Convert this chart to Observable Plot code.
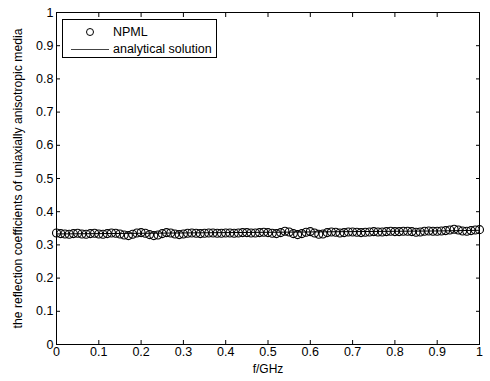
<!DOCTYPE html>
<html>
<head>
<meta charset="utf-8">
<script src="https://cdn.jsdelivr.net/npm/d3@7"></script>
<script src="https://cdn.jsdelivr.net/npm/@observablehq/plot@0.6"></script>
<style>
  html, body { margin: 0; padding: 0; background: #fff; }
  #wrap { position: relative; width: 490px; height: 381px; font-family: "Liberation Sans", Arial, sans-serif; }
  #legend { position: absolute; left: 62px; top: 19px; width: 153px; height: 37px; border: 1px solid #000; background: #fff; font-size: 12.5px; color: #000; }
  #legend .row { position: absolute; left: 0; height: 14px; line-height: 14px; }
  #legend .mk { position: absolute; left: 23px; top: 3px; width: 8px; height: 8px; border: 1px solid #000; border-radius: 50%; box-sizing: border-box; }
  #legend .ln { position: absolute; left: 8px; top: 7px; width: 38px; height: 0; border-top: 1px solid #444; }
  #legend .lbl { position: absolute; left: 50px; top: 0; white-space: nowrap; }
</style>
</head>
<body>
<div id="wrap">
  <div id="chart"></div>
  <div id="legend">
    <div class="row" style="top:5px;width:151px"><span class="mk"></span><span class="lbl">NPML</span></div>
    <div class="row" style="top:22px;width:151px"><span class="ln"></span><span class="lbl">analytical solution</span></div>
  </div>
</div>
<script>
// Frequency grid (GHz) for the NPML samples
const npmlF = [0,0.01,0.02,0.03,0.04,0.05,0.06,0.07,0.08,0.09,0.1,
  0.11,0.12,0.13,0.14,0.15,0.16,0.17,0.18,0.19,0.2,
  0.21,0.22,0.23,0.24,0.25,0.26,0.27,0.28,0.29,0.3,
  0.31,0.32,0.33,0.34,0.35,0.36,0.37,0.38,0.39,0.4,
  0.41,0.42,0.43,0.44,0.45,0.46,0.47,0.48,0.49,0.5,
  0.51,0.52,0.53,0.54,0.55,0.56,0.57,0.58,0.59,0.6,
  0.61,0.62,0.63,0.64,0.65,0.66,0.67,0.68,0.69,0.7,
  0.71,0.72,0.73,0.74,0.75,0.76,0.77,0.78,0.79,0.8,
  0.81,0.82,0.83,0.84,0.85,0.86,0.87,0.88,0.89,0.9,
  0.91,0.92,0.93,0.94,0.95,0.96,0.97,0.98,0.99,1];
// NPML reflection coefficients
const npmlR = [0.336,0.334,0.333,0.332,0.334,0.335,0.333,0.332,0.334,0.335,0.333,
  0.332,0.334,0.336,0.335,0.333,0.330,0.328,0.332,0.336,0.337,
  0.335,0.331,0.328,0.330,0.334,0.337,0.336,0.333,0.331,0.333,
  0.335,0.336,0.335,0.334,0.335,0.336,0.336,0.335,0.335,0.336,
  0.336,0.335,0.336,0.337,0.337,0.336,0.336,0.337,0.338,0.337,
  0.335,0.334,0.337,0.341,0.339,0.334,0.331,0.334,0.338,0.340,
  0.336,0.332,0.333,0.337,0.339,0.338,0.336,0.337,0.339,0.339,
  0.338,0.337,0.338,0.339,0.340,0.339,0.339,0.340,0.341,0.340,
  0.340,0.341,0.341,0.340,0.338,0.339,0.341,0.342,0.341,0.341,
  0.342,0.343,0.345,0.347,0.345,0.342,0.341,0.343,0.345,0.346];
// Analytical solution
const anaF = [0,0.1,0.2,0.3,0.4,0.5,0.6,0.7,0.8,0.9,1];
const anaR = [0.333,0.334,0.335,0.336,0.337,0.338,0.339,0.340,0.341,0.342,0.344];
// Tick values and axis titles
const xTicks = [0,0.1,0.2,0.3,0.4,0.5,0.6,0.7,0.8,0.9,1];
const yTicks = [0,0.1,0.2,0.3,0.4,0.5,0.6,0.7,0.8,0.9,1];
const xTitle = "f/GHz";
const yTitle = "the reflection coefficients of uniaxially anisotropic media";

const npml = npmlF.map((f, i) => ({f, r: npmlR[i]}));
const ana = anaF.map((f, i) => ({f, r: anaR[i]}));
const fmt = d => d3.format("~g")(d);

const chart = Plot.plot({
  width: 490,
  height: 381,
  marginLeft: 56,
  marginRight: 11,
  marginTop: 12,
  marginBottom: 37,
  style: {fontFamily: '"Liberation Sans", Arial, sans-serif', fontSize: "12px", color: "#000", background: "#fff"},
  x: {domain: [0, 1], label: null},
  y: {domain: [0, 1], label: null},
  marks: [
    Plot.line(ana, {x: "f", y: "r", stroke: "#000", strokeWidth: 1}),
    Plot.dot(npml, {x: "f", y: "r", r: 4, stroke: "#000", strokeWidth: 1.1, fill: "none"}),
    Plot.frame({stroke: "#000", strokeWidth: 1}),
    Plot.axisX(xTicks, {anchor: "bottom", tickSize: -4, text: null, label: null, stroke: "#000"}),
    Plot.axisX(xTicks, {anchor: "top", tickSize: -4, text: null, label: null, stroke: "#000"}),
    Plot.axisY(yTicks, {anchor: "left", tickSize: -4, text: null, label: null, stroke: "#000"}),
    Plot.axisY(yTicks, {anchor: "right", tickSize: -4, text: null, label: null, stroke: "#000"}),
    Plot.axisX(xTicks, {anchor: "bottom", tickSize: 0, tickPadding: 3, tickFormat: fmt, label: null, fill: "#000", fontSize: 12.5}),
    Plot.axisY(yTicks, {anchor: "left", tickSize: 0, tickPadding: 3, tickFormat: fmt, label: null, fill: "#000", fontSize: 12.5}),
    Plot.text([xTitle], {frameAnchor: "bottom", dy: 20, text: d => d, fill: "#000", fontSize: 12, lineAnchor: "top"}),
    Plot.text([yTitle], {frameAnchor: "left", dx: -38, rotate: -90, textAnchor: "middle", text: d => d, fill: "#000", fontSize: 12.2})
  ]
});
document.getElementById("chart").appendChild(chart);
</script>
</body>
</html>
